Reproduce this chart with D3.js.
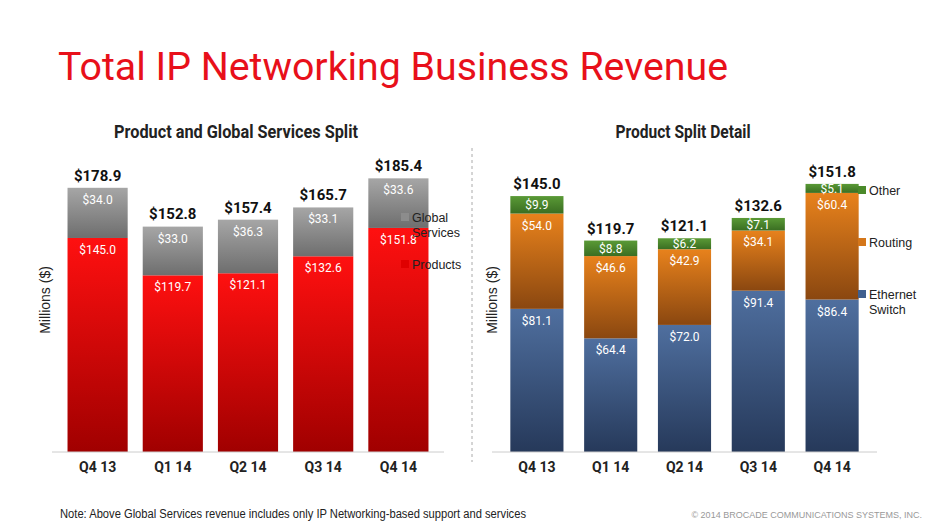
<!DOCTYPE html>
<html><head><meta charset="utf-8">
<script src="https://cdn.jsdelivr.net/npm/d3@7"></script>
<style>body{margin:0;background:#fff}text{font-family:"Liberation Sans Narrow","Roboto","Liberation Sans",sans-serif}</style>
</head><body><svg id="c" width="940" height="528"></svg>
<script>
const quarters=["Q4 13","Q1 14","Q2 14","Q3 14","Q4 14"];
const products=[145.0,119.7,121.1,132.6,151.8];
const services=[34.0,33.0,36.3,33.1,33.6];
const totalsLeft=[178.9,152.8,157.4,165.7,185.4];
const ethernet=[81.1,64.4,72.0,91.4,86.4];
const routing=[54.0,46.6,42.9,34.1,60.4];
const other=[9.9,8.8,6.2,7.1,5.1];
const totalsRight=[145.0,119.7,121.1,132.6,151.8];

const svg=d3.select("#c");
const defs=svg.append("defs");
function grad(id,c1,c2){const g=defs.append("linearGradient").attr("id",id).attr("x1",0).attr("y1",0).attr("x2",0).attr("y2",1);
g.append("stop").attr("offset","0%").attr("stop-color",c1);g.append("stop").attr("offset","100%").attr("stop-color",c2);}
grad("gRed","#ff1010","#a00000");grad("gGray","#a6a6a6","#6e6e6e");
grad("gBlue","#4f6f9f","#26395a");grad("gOrange","#e8821c","#8a4710");grad("gGreen","#5a9a36","#3a6e22");

svg.append("text").attr("x",58).attr("y",80).attr("fill","#e8101a").attr("font-size",39).attr("textLength",670).attr("lengthAdjust","spacingAndGlyphs").text("Total IP Networking Business Revenue");
svg.append("line").attr("x1",472).attr("x2",472).attr("y1",148).attr("y2",462).attr("stroke","#aaa").attr("stroke-dasharray","3,3");
svg.append("text").attr("x",60).attr("y",518).attr("font-size",12.5).attr("fill","#222").attr("textLength",466).attr("lengthAdjust","spacingAndGlyphs").style("font-family","Liberation Sans, sans-serif").text("Note: Above Global Services revenue includes only IP Networking-based support and services");
svg.append("text").attr("x",922).attr("y",518).attr("font-size",9).attr("fill","#999").attr("text-anchor","end").style("font-family","Liberation Sans, sans-serif").text("© 2014 BROCADE COMMUNICATIONS SYSTEMS, INC.");

function chart(o){
  const x=d3.scaleBand().domain(quarters).range([o.x0,o.x1]).paddingInner(o.pad).paddingOuter(o.pad/2);
  const y=d3.scaleLinear().domain([0,o.max]).range([452,452-o.max*o.k]);
  const g=svg.append("g");
  g.append("text").attr("x",o.tx).attr("y",138).attr("text-anchor","middle").attr("font-size",18).attr("font-weight","bold").attr("fill","#222").attr("textLength",o.tl).attr("lengthAdjust","spacingAndGlyphs").text(o.title);
  g.append("text").attr("transform",`translate(${o.yl},300) rotate(-90)`).attr("text-anchor","middle").attr("font-size",14).attr("fill","#222").style("font-family","Liberation Sans, sans-serif").text("Millions ($)");
  const stack=d3.stack().keys(o.keys.map((k,i)=>i))(quarters.map((q,j)=>o.series.map(s=>s[j])));
  stack.forEach((layer,i)=>{
    layer.forEach((d,j)=>{
      const h=y(d[0])-y(d[1]);
      g.append("rect").attr("x",x(quarters[j])).attr("width",x.bandwidth()).attr("y",y(d[1])).attr("height",h).attr("fill",`url(#${o.fills[i]})`);
      const ty=h<24?y(d[1])+h/2+4.5:y(d[1])+16;
      g.append("text").attr("x",x(quarters[j])+x.bandwidth()/2).attr("y",ty).attr("text-anchor","middle").attr("font-size",12).attr("fill","#fff").text("$"+o.series[i][j].toFixed(1));
    });
  });
  o.totals.forEach((t,j)=>g.append("text").attr("x",x(quarters[j])+x.bandwidth()/2).attr("y",y(t)-7).attr("text-anchor","middle").attr("font-size",15).attr("font-weight","bold").attr("fill","#111").text("$"+t.toFixed(1)));
  const ax=g.append("g").attr("transform","translate(0,452)").call(d3.axisBottom(x).tickSize(0).tickPadding(10));
  ax.select(".domain").attr("stroke","#ccc").attr("d",`M${o.x0-8},0H${o.x1+8}`);
  ax.selectAll("text").attr("font-size",14).attr("font-weight","bold").attr("fill","#222");
  o.legend.forEach(l=>{
    g.append("rect").attr("x",o.lx).attr("y",l.y-5).attr("width",8).attr("height",8).attr("fill",l.c);
    l.t.forEach((s,i)=>g.append("text").attr("x",o.lx+11).attr("y",l.y+4+i*15).attr("font-size",12.5).attr("fill","#222").style("font-family","Liberation Sans, sans-serif").text(s));
  });
}
chart({x0:60,x1:436,pad:0.2,k:1.476,max:190,tx:236,tl:244,title:"Product and Global Services Split",yl:50,keys:["p","s"],series:[products,services],fills:["gRed","gGray"],totals:totalsLeft,lx:401,
  legend:[{y:218,c:"#8c8c8c",t:["Global","Services"]},{y:265,c:"#e00000",t:["Products"]}]});
chart({x0:500,x1:869,pad:0.28,k:1.765,max:155,tx:683,tl:135,title:"Product Split Detail",yl:497,keys:["e","r","o"],series:[ethernet,routing,other],fills:["gBlue","gOrange","gGreen"],totals:totalsRight,lx:858,
  legend:[{y:191,c:"#4a8a2a",t:["Other"]},{y:243,c:"#d4761a",t:["Routing"]},{y:295,c:"#3f5f8f",t:["Ethernet","Switch"]}]});
</script></body></html>
